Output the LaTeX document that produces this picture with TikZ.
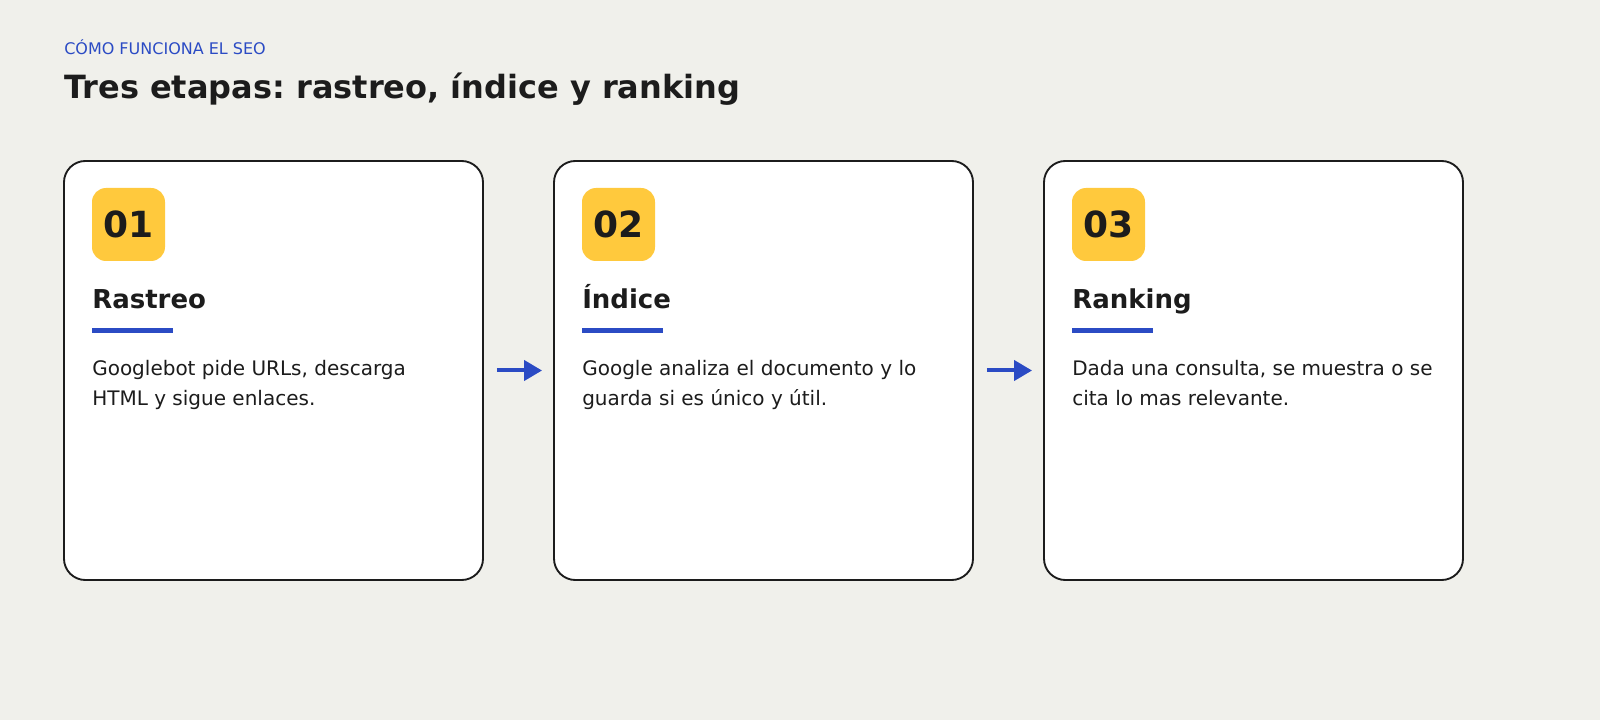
\documentclass[tikz,border=0pt]{standalone}
\usepackage{fontspec}
\setmainfont{DejaVu Sans}
\usetikzlibrary{arrows.meta}
\frenchspacing
\definecolor{bg}{HTML}{F0F0EB}
\definecolor{ink}{HTML}{1C1C1C}
\definecolor{accent}{HTML}{2B4BC4}
\definecolor{badgey}{HTML}{FFC93D}
\tikzset{
  card/.style={draw=ink, line width=1.4pt, fill=white, rounded corners=16pt, minimum width=314.25pt, minimum height=314.25pt, inner sep=0pt},
  badge/.style={fill=badgey, rounded corners=10.5pt, minimum size=54.75pt, inner sep=0pt, font=\bfseries\fontsize{27}{27}\selectfont, text=ink},
  ctitle/.style={anchor=base west, inner sep=0pt, font=\bfseries\fontsize{19.5}{19.5}\selectfont, text=ink},
  body/.style={anchor=base west, inner sep=0pt, font=\fontsize{15}{22.5}\selectfont, text=ink},
  rulebar/.style={draw=accent, line width=3.4pt},
  arr/.style={draw=accent, line width=3pt, -{Triangle[length=13.5pt,width=15pt]}, shorten <=9.75pt, shorten >=8.25pt},
}
\begin{document}
\begin{tikzpicture}[x=0.75pt, y=-0.75pt]
\fill[bg] (0,0) rectangle (1600,720);
\useasboundingbox (0,0) rectangle (1600,720);
\node[anchor=base west, inner sep=0pt, text=accent, font=\fontsize{12}{12}\selectfont] (kicker) at (64,55) {CÓMO FUNCIONA EL SEO};
\node[anchor=base west, inner sep=0pt, text=ink, font=\bfseries\fontsize{24}{24}\selectfont] (title) at (64,99) {Tres etapas: rastreo, índice y ranking};
% cards
\node[card] (c1) at (273.5,370.5) {};
\node[card] (c2) at (763.5,370.5) {};
\node[card] (c3) at (1253.5,370.5) {};
% card 1
\node[badge] (b1) at (128.5,224.5) {01};
\node[ctitle] (t1) at (92,309) {Rastreo};
\draw[rulebar] (92,330.3) -- (173,330.3);
\node[body] (d1a) at (92,375) {Googlebot pide URLs, descarga};
\node[body] (d1b) at (92,405) {HTML y sigue enlaces.};
% card 2
\node[badge] (b2) at (618.5,224.5) {02};
\node[ctitle] (t2) at (582,309) {Índice};
\draw[rulebar] (582,330.3) -- (663,330.3);
\node[body] (d2a) at (582,375) {Google analiza el documento y lo};
\node[body] (d2b) at (582,405) {guarda si es único y útil.};
% card 3
\node[badge] (b3) at (1108.5,224.5) {03};
\node[ctitle] (t3) at (1072,309) {Ranking};
\draw[rulebar] (1072,330.3) -- (1153,330.3);
\node[body] (d3a) at (1072,375) {Dada una consulta, se muestra o se};
\node[body] (d3b) at (1072,405) {cita lo mas relevante.};
% arrows
\draw[arr] (c1) -- (c2);
\draw[arr] (c2) -- (c3);
\end{tikzpicture}
\end{document}
